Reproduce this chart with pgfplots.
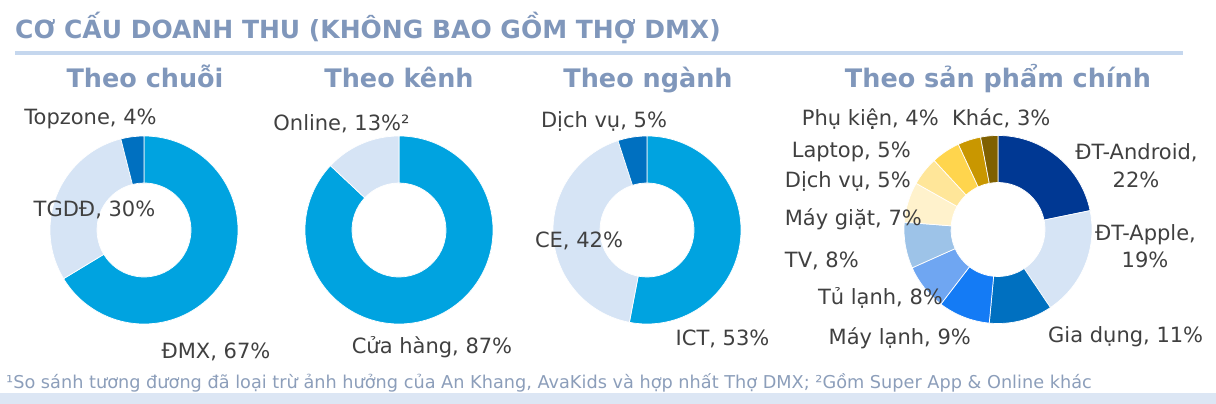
\documentclass[border=0pt]{standalone}
\usepackage{fontspec}
\setmainfont{DejaVu Sans}
\usepackage{pgfplots}
\pgfplotsset{compat=1.18}

\definecolor{cMain}{RGB}{0,163,224}
\definecolor{cLight}{RGB}{214,228,245}
\definecolor{cDark}{RGB}{0,112,192}
\definecolor{cNavy}{RGB}{0,56,147}
\definecolor{cBright}{RGB}{20,123,245}
\definecolor{cMid}{RGB}{111,166,242}
\definecolor{cSoft}{RGB}{157,195,232}
\definecolor{cYa}{RGB}{255,242,204}
\definecolor{cYb}{RGB}{255,230,153}
\definecolor{cYc}{RGB}{255,213,77}
\definecolor{cGold}{RGB}{201,151,0}
\definecolor{cBrown}{RGB}{127,96,0}
\definecolor{ttl}{RGB}{128,151,187}
\definecolor{txt}{RGB}{64,64,64}
\definecolor{rule}{RGB}{197,215,238}
\definecolor{band}{RGB}{220,230,244}
\definecolor{foot}{RGB}{140,158,186}

% one donut slice as a plot mark: ring between 47pt and 94pt,
% clockwise from 12 o'clock
\pgfdeclareplotmark{donutslice}{%
  \pgfmathsetmacro\aS{90-\slPrev/\slTot*360}%
  \pgfmathsetmacro\aE{90-(\slPrev+\slVal)/\slTot*360}%
  \pgfpathmoveto{\pgfpointpolar{\aS}{94pt}}%
  \pgfpatharc{\aS}{\aE}{94pt}%
  \pgfpathlineto{\pgfpointpolar{\aE}{47pt}}%
  \pgfpatharc{\aE}{\aS}{47pt}%
  \pgfpathclose
  \pgfusepathqfillstroke
}
\pgfplotsset{
  slice/.code n args={3}{\def\slTot{#1}\def\slPrev{#2}\def\slVal{#3}},
}
% \slice{cx}{cy}{total}{share before}{share}{colour}
\newcommand\slice[6]{%
  \addplot[only marks, mark=donutslice, slice={#3}{#4}{#5},
    mark options={draw=white, fill=#6, line width=0.7pt}]
    coordinates {(#1,#2)};}

\tikzset{
  lab/.style={font=\fontsize{21}{25}\selectfont, text=txt, inner sep=0pt},
  sub/.style={font=\fontsize{25.5}{30}\selectfont\bfseries, text=ttl, inner sep=0pt, anchor=base},
}

\begin{document}
\begin{tikzpicture}
\begin{axis}[
  width=1216pt, height=404pt, scale only axis,
  xmin=0, xmax=1216, ymin=0, ymax=404,
  hide axis, clip=false, set layers,
]
\path (axis cs:0,0) rectangle (axis cs:1216,404);
\fill[band] (axis cs:0,0) rectangle (axis cs:1216,11);

% Theo chuỗi
\slice{144}{174}{101}{0}{67}{cMain}
\slice{144}{174}{101}{67}{30}{cLight}
\slice{144}{174}{101}{97}{4}{cDark}
% Theo kênh
\slice{399}{174}{100}{0}{87}{cMain}
\slice{399}{174}{100}{87}{13}{cLight}
% Theo ngành
\slice{647}{174}{100}{0}{53}{cMain}
\slice{647}{174}{100}{53}{42}{cLight}
\slice{647}{174}{100}{95}{5}{cDark}
% Theo sản phẩm chính
\slice{998}{174.5}{101}{0}{22}{cNavy}
\slice{998}{174.5}{101}{22}{19}{cLight}
\slice{998}{174.5}{101}{41}{11}{cDark}
\slice{998}{174.5}{101}{52}{9}{cBright}
\slice{998}{174.5}{101}{61}{8}{cMid}
\slice{998}{174.5}{101}{69}{8}{cSoft}
\slice{998}{174.5}{101}{77}{7}{cYa}
\slice{998}{174.5}{101}{84}{5}{cYb}
\slice{998}{174.5}{101}{89}{5}{cYc}
\slice{998}{174.5}{101}{94}{4}{cGold}
\slice{998}{174.5}{101}{98}{3}{cBrown}

\begin{pgfonlayer}{axis foreground}
% title and rule
\node[anchor=base west, inner sep=0pt, text=ttl, font=\fontsize{25}{30}\selectfont\bfseries]
  at (axis cs:15,365) {CƠ CẤU DOANH THU (KHÔNG BAO GỒM THỢ DMX)};
\draw[rule, line width=3.5pt] (axis cs:15,351) -- (axis cs:1183,351);

\node[sub] at (axis cs:145,316) {Theo chuỗi};
\node[sub] at (axis cs:399,316) {Theo kênh};
\node[sub] at (axis cs:648,316) {Theo ngành};
\node[sub] at (axis cs:998,316) {Theo sản phẩm chính};

% labels, chart 1-3
\node[lab, anchor=base] at (axis cs:90.5,279.5) {Topzone, 4\%};
\node[lab, anchor=base] at (axis cs:94.5,187) {TGDĐ, 30\%};
\node[lab, anchor=base] at (axis cs:216,45.5) {ĐMX, 67\%};
\node[lab, anchor=base] at (axis cs:341.5,273.5) {Online, 13\%²};
\node[lab, anchor=base] at (axis cs:432,50.5) {Cửa hàng, 87\%};
\node[lab, anchor=base] at (axis cs:604,276.5) {Dịch vụ, 5\%};
\node[lab, anchor=base] at (axis cs:579,156.5) {CE, 42\%};
\node[lab, anchor=base] at (axis cs:722.5,58.5) {ICT, 53\%};

% labels, chart 4
\node[lab, anchor=base east] at (axis cs:939,278.5) {Phụ kiện, 4\%};
\node[lab, anchor=base west] at (axis cs:952,278.5) {Khác, 3\%};
\node[lab, anchor=base east] at (axis cs:911,246.5) {Laptop, 5\%};
\node[lab, anchor=base east] at (axis cs:911,216.5) {Dịch vụ, 5\%};
\node[lab, anchor=base east] at (axis cs:922,178.5) {Máy giặt, 7\%};
\node[lab, anchor=base east] at (axis cs:859,136.5) {TV, 8\%};
\node[lab, anchor=base east] at (axis cs:943,99.5) {Tủ lạnh, 8\%};
\node[lab, anchor=base east] at (axis cs:971,59.5) {Máy lạnh, 9\%};
\node[lab, anchor=base] at (axis cs:1136.5,244.5) {ĐT-Android,};
\node[lab, anchor=base] at (axis cs:1136,216.5) {22\%};
\node[lab, anchor=base] at (axis cs:1145.5,163.5) {ĐT-Apple,};
\node[lab, anchor=base] at (axis cs:1145,136.5) {19\%};
\node[lab, anchor=base west] at (axis cs:1048,61.5) {Gia dụng, 11\%};

% footnote
\node[anchor=base west, inner sep=0pt, text=foot, font=\fontsize{17.7}{21}\selectfont]
  at (axis cs:6,15) {¹So sánh tương đương đã loại trừ ảnh hưởng của An Khang, AvaKids và hợp nhất Thợ DMX; ²Gồm Super App \& Online khác};
\end{pgfonlayer}
\end{axis}
\end{tikzpicture}
\end{document}
